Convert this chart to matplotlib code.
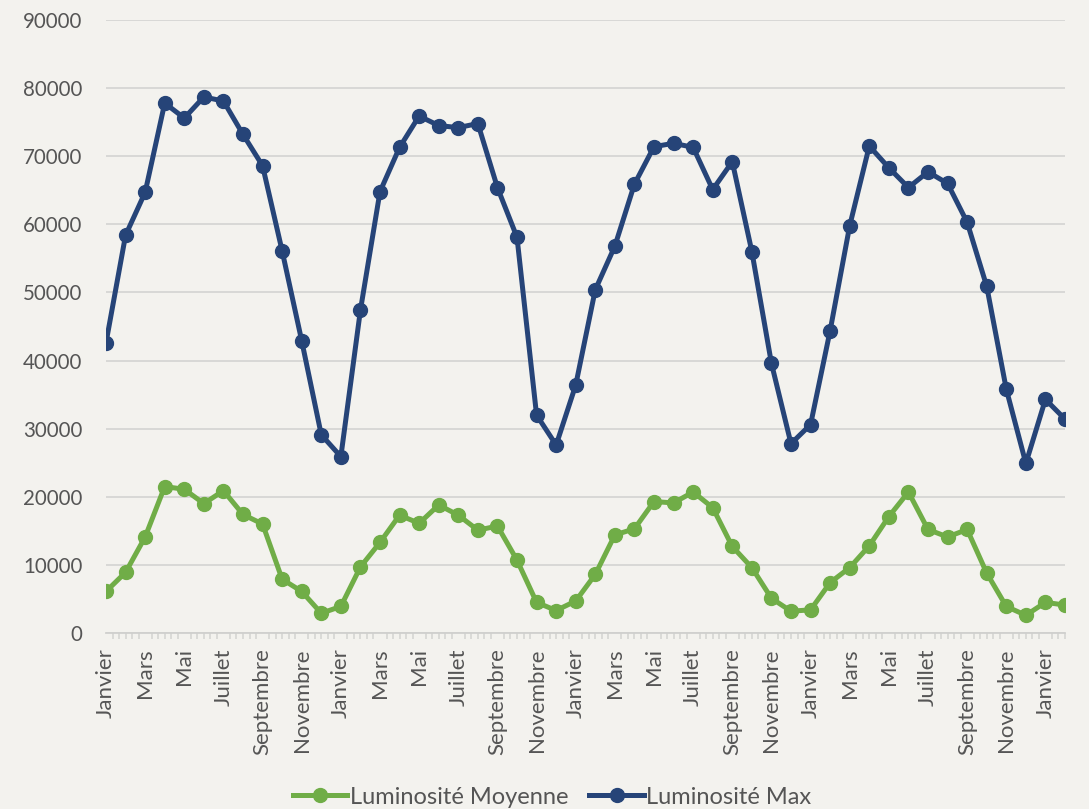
import numpy as np
import matplotlib
matplotlib.use("Agg")
import matplotlib.pyplot as plt

plt.rcParams["font.family"] = ["Lato", "DejaVu Sans"]

mois = ["Janvier", "Février", "Mars", "Avril", "Mai", "Juin", "Juillet",
        "Août", "Septembre", "Octobre", "Novembre", "Décembre"]

lum_max = [42600, 58400, 64700, 77800, 75600, 78700, 78100, 73200, 68600, 56100,
           42900, 29100, 25900, 47400, 64800, 71300, 75900, 74500, 74200, 74800,
           65400, 58100, 32000, 27600, 36400, 50400, 56800, 65900, 71400, 71900,
           71300, 65100, 69200, 56000, 39600, 27800, 30600, 44400, 59800, 71500,
           68300, 65400, 67700, 66000, 60300, 50900, 35800, 24900, 34300, 31400]

lum_moy = [6100, 8900, 14100, 21500, 21100, 19000, 20900, 17400, 16000, 7900,
           6100, 2900, 3900, 9700, 13300, 17300, 16100, 18800, 17300, 15100,
           15700, 10700, 4500, 3300, 4700, 8600, 14400, 15300, 19300, 19100,
           20700, 18400, 12700, 9600, 5100, 3200, 3400, 7400, 9600, 12800,
           17100, 20700, 15200, 14100, 15200, 8800, 3900, 2600, 4500, 4100]

n = len(lum_max)
x = np.arange(n)
labels = [mois[i % 12] for i in range(n)]

bg = "#F3F2EE"
txt = "#555555"
blue = "#264478"
green = "#70AD47"

fig = plt.figure(figsize=(10.89, 8.09), dpi=100, facecolor=bg)
ax = fig.add_axes([106 / 1089, (809 - 633) / 809, (1065 - 106) / 1089, (633 - 20) / 809])
ax.set_facecolor(bg)

ax.plot(x, lum_moy, color=green, lw=3.6, marker="o", ms=10, label="Luminosité Moyenne", zorder=3)
ax.plot(x, lum_max, color=blue, lw=3.6, marker="o", ms=10, label="Luminosité Max", zorder=3)

ax.set_xlim(0, n - 1)
ax.set_ylim(0, 90000)
ax.set_yticks(range(0, 90001, 10000))
ax.grid(axis="y", color="#D6D6D4", lw=1.3, zorder=0)
ax.set_axisbelow(True)

ax.set_xticks(x[::2])
ax.set_xticklabels(labels[::2], rotation=90)
ax.set_xticks(np.arange(0, n - 1 + 0.01, 1 / 3), minor=True)
ax.tick_params(axis="x", which="major", length=0, pad=11, labelsize=16, labelcolor=txt)
ax.tick_params(axis="x", which="minor", length=4, width=1.1, color="#D3D3D1")
ax.tick_params(axis="y", length=0, pad=17, labelsize=14.8, labelcolor=txt)

for s in ["top", "right", "left"]:
    ax.spines[s].set_visible(False)
ax.spines["bottom"].set_color("#D0D0CE")
ax.spines["bottom"].set_linewidth(1.3)

fig.legend(loc="center", bbox_to_anchor=(0.507, 1 - 797 / 809), ncol=2, frameon=False,
           fontsize=17, labelcolor=txt, handlelength=2.3, handletextpad=0.1,
           columnspacing=0.9, numpoints=1)

fig.savefig("out.png", dpi=100, facecolor=bg)
